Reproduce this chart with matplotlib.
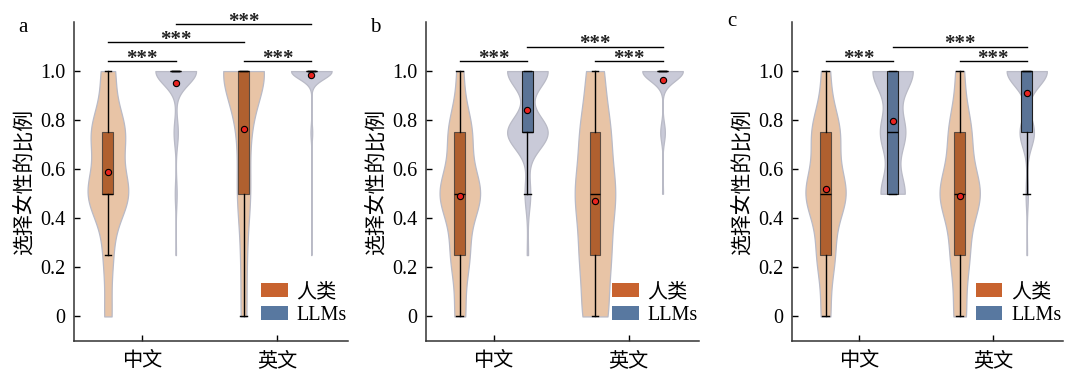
import numpy as np
import matplotlib
matplotlib.use('Agg')
import matplotlib.pyplot as plt
from matplotlib.patches import Patch

plt.rcParams['font.family'] = ['Liberation Serif', 'Noto Sans CJK SC']
plt.rcParams['axes.unicode_minus'] = False

# answer levels (share of female picks) and % of answers at each level
levels = [0, 0.25, 0.5, 0.75, 1.0]
a_human_zh = [7, 9, 39, 32, 13]
a_llm_zh = [0, 1, 4, 9, 86]
a_human_en = [7, 7, 16, 14, 56]
a_llm_en = [0, 0.5, 0.5, 4, 95]
b_human_zh = [10.5, 18.5, 41, 23.5, 6.5]
b_llm_zh = [0, 1.5, 6.5, 46, 46]
b_human_en = [18, 21, 28, 21, 12]
b_llm_en = [0, 0, 2, 10, 88]
c_human_zh = [9, 17, 39, 27, 8]
c_llm_zh = [0, 0, 27, 28, 45]
c_human_en = [12, 18, 40, 22, 8]
c_llm_en = [0, 1, 4, 25, 70]

categories = ['中文', '英文']
series = ['人类', 'LLMs']
yticks = [0, 0.2, 0.4, 0.6, 0.8, 1.0]
ytick_labels = ['0', '0.2', '0.4', '0.6', '0.8', '1.0']
panel_labels = ['a', 'b', 'c']

# significance brackets: (from group, to group, height); groups 0..3 = 人类中文, LLMs中文, 人类英文, LLMs英文
a_sig = [(0, 1, 1.04), (2, 3, 1.04), (0, 2, 1.118), (1, 3, 1.19)]
b_sig = [(0, 1, 1.04), (2, 3, 1.04), (1, 3, 1.10)]
c_sig = [(0, 1, 1.04), (2, 3, 1.04), (1, 3, 1.10)]

panels = [
    ([a_human_zh, a_llm_zh, a_human_en, a_llm_en], a_sig),
    ([b_human_zh, b_llm_zh, b_human_en, b_llm_en], b_sig),
    ([c_human_zh, c_llm_zh, c_human_en, c_llm_en], c_sig),
]

violin_col = ['#e8c4a6', '#c9cad8']
box_col = ['#b0602f', '#5a7396']
box_edge = ['#5a4a40', '#1e1e1e']
legend_col = ['#c8632f', '#5878a0']


def sample(pct):
    return np.repeat(levels, np.round(np.array(pct) * 10).astype(int))


fig = plt.figure(figsize=(10.71, 3.71), dpi=100)
rects = [[0.0691, 0.0809, 0.2558, 0.8598],
         [0.3978, 0.0809, 0.2549, 0.8598],
         [0.7395, 0.0809, 0.2530, 0.8598]]
label_xy = [(23, 27), (375, 28), (732, 22)]

for i, (groups, sig) in enumerate(panels):
    ax = fig.add_axes(rects[i])
    data = [sample(g) for g in groups]
    pos = [c + o for c in range(len(categories)) for o in (-0.25, 0.25)]

    vp = ax.violinplot(data, positions=pos, widths=0.3, showextrema=False,
                       bw_method=0.4)
    for j, body in enumerate(vp['bodies']):
        body.set_facecolor(violin_col[j % 2])
        body.set_edgecolor('#b9bac6')
        body.set_linewidth(0.9)
        body.set_alpha(1)
        body.set_zorder(1)

    bp = ax.boxplot(data, positions=pos, widths=0.08, patch_artist=True,
                    showfliers=False, showmeans=True, manage_ticks=False,
                    capwidths=0.05,
                    medianprops=dict(color='black', lw=1.0),
                    whiskerprops=dict(color='black', lw=1.0),
                    capprops=dict(color='black', lw=1.0),
                    meanprops=dict(marker='o', markerfacecolor='#e8231f',
                                   markeredgecolor='black', markersize=4.5,
                                   markeredgewidth=0.8))
    for j, box in enumerate(bp['boxes']):
        box.set_facecolor(box_col[j % 2])
        box.set_edgecolor(box_edge[j % 2])
        box.set_linewidth(0.8)
        box.set_zorder(2)
    for k in ('medians', 'whiskers', 'caps'):
        for ln in bp[k]:
            ln.set_zorder(3)
    for ln in bp['means']:
        ln.set_zorder(4)

    for g1, g2, h in sig:
        ax.plot([pos[g1], pos[g2]], [h, h], color='black', lw=1, clip_on=False)
        ax.text((pos[g1] + pos[g2]) / 2, h - 0.012, '***', ha='center',
                va='baseline', fontsize=15, fontweight='bold', color='#222222',
                clip_on=False)

    ax.set_xlim(-0.5, 1.52)
    ax.set_ylim(-0.1, 1.2)
    ax.set_yticks(yticks, ytick_labels)
    ax.set_xticks(range(len(categories)), categories)
    ax.tick_params(direction='in', length=4, width=1, labelsize=14.5, pad=6)
    ax.tick_params(axis='x', pad=8)
    for s in ('top', 'right'):
        ax.spines[s].set_visible(False)
    for s in ('left', 'bottom'):
        ax.spines[s].set_linewidth(1.1)
        ax.spines[s].set_color('#333333')
    ax.set_ylabel('选择女性的比例', fontsize=15, labelpad=4)

    handles = [Patch(facecolor=legend_col[0], label=series[0]),
               Patch(facecolor=legend_col[1], label=series[1])]
    ax.legend(handles=handles, loc='lower right', bbox_to_anchor=(1.04, 0.012),
              frameon=False, fontsize=14.5, handlelength=1.3, handleheight=0.65,
              handletextpad=0.45, labelspacing=0.2, borderpad=0.1)

    fig.text(label_xy[i][0] / 1071, 1 - label_xy[i][1] / 371, panel_labels[i],
             ha='center', va='center', fontsize=15)

fig.savefig('out.png', dpi=100)
